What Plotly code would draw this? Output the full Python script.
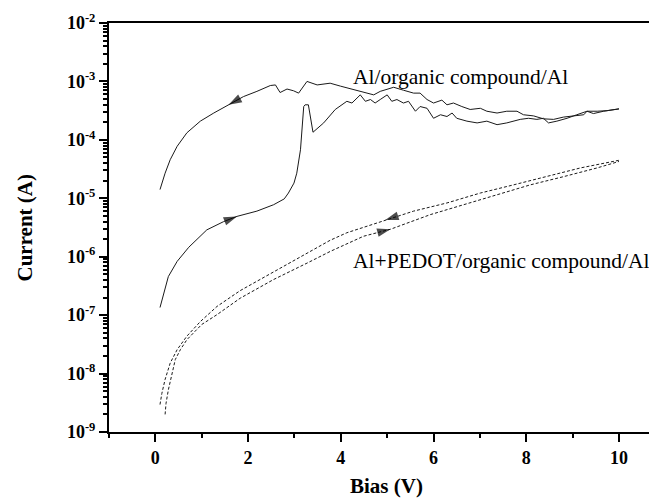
import plotly.graph_objects as go

# ---------------- data (Bias in V, Current in A) ----------------
# Al/organic compound/Al, reverse sweep (10 V -> 0 V), listed by increasing bias
al_rev_x = [0.10, 0.21, 0.32, 0.47, 0.68, 0.97, 1.26, 1.58, 1.90, 2.19, 2.48, 2.59,
            2.69, 2.84, 2.98, 3.09, 3.27, 3.49, 3.77, 3.99, 4.13, 4.31, 4.46, 4.71,
            4.85, 5.14, 5.35, 5.57, 5.71, 5.86, 6.00, 6.18, 6.29, 6.43, 6.61, 6.79,
            7.01, 7.15, 7.37, 7.58, 7.80, 7.94, 8.16, 8.37, 8.59, 8.80, 9.02, 9.24,
            9.31, 9.45, 9.67, 10.0]
al_rev_i = [1.41e-5, 2.69e-5, 4.57e-5, 7.76e-5, 1.32e-4, 2.09e-4, 2.88e-4, 3.98e-4,
            5.50e-4, 6.76e-4, 8.51e-4, 8.71e-4, 6.46e-4, 7.41e-4, 6.92e-4, 6.31e-4,
            1.00e-3, 8.71e-4, 9.33e-4, 8.32e-4, 7.76e-4, 7.24e-4, 6.76e-4, 5.89e-4,
            6.76e-4, 7.94e-4, 7.08e-4, 6.31e-4, 6.31e-4, 4.90e-4, 4.27e-4, 4.79e-4,
            3.98e-4, 4.27e-4, 3.72e-4, 3.31e-4, 3.47e-4, 3.09e-4, 2.88e-4, 3.09e-4,
            3.09e-4, 2.69e-4, 2.57e-4, 2.29e-4, 2.24e-4, 2.45e-4, 2.57e-4, 2.69e-4,
            3.09e-4, 2.82e-4, 3.09e-4, 3.39e-4]

# Al/organic compound/Al, forward sweep (0 V -> 10 V)
al_fwd_x = [0.10, 0.18, 0.28, 0.47, 0.72, 1.11, 1.47, 1.76, 2.19, 2.55, 2.78, 2.87,
            2.99, 3.05, 3.13, 3.20, 3.23, 3.30, 3.40, 3.63, 3.88, 4.13, 4.24, 4.42,
            4.53, 4.64, 4.74, 4.85, 5.00, 5.10, 5.21, 5.35, 5.46, 5.61, 5.71, 5.86,
            6.00, 6.15, 6.29, 6.40, 6.50, 6.72, 6.94, 7.15, 7.37, 7.58, 7.73, 7.87,
            8.05, 8.23, 8.37, 8.48, 8.66, 8.88, 9.09, 9.31, 9.53, 9.74, 10.0]
al_fwd_i = [1.35e-7, 2.40e-7, 4.57e-7, 8.32e-7, 1.45e-6, 2.88e-6, 3.98e-6, 4.90e-6,
            6.03e-6, 7.76e-6, 9.77e-6, 1.23e-5, 1.82e-5, 2.69e-5, 6.76e-5, 3.72e-4,
            3.98e-4, 3.98e-4, 1.35e-4, 1.95e-4, 3.31e-4, 4.57e-4, 4.27e-4, 5.89e-4,
            4.57e-4, 4.90e-4, 4.27e-4, 4.90e-4, 5.89e-4, 4.57e-4, 4.90e-4, 4.27e-4,
            4.57e-4, 3.09e-4, 3.72e-4, 3.47e-4, 2.34e-4, 2.69e-4, 2.51e-4, 2.88e-4,
            2.34e-4, 2.09e-4, 1.95e-4, 2.09e-4, 1.82e-4, 1.95e-4, 2.09e-4, 2.24e-4,
            2.34e-4, 2.24e-4, 2.34e-4, 1.95e-4, 2.09e-4, 2.34e-4, 2.69e-4, 3.09e-4,
            3.09e-4, 3.16e-4, 3.39e-4]

# Al+PEDOT/organic compound/Al, reverse sweep (10 V -> 0 V)
pedot_rev_x = [0.10, 0.14, 0.21, 0.32, 0.47, 0.68, 0.97, 1.33, 1.83, 2.55, 3.27,
               3.77, 4.13, 4.96, 5.57, 6.29, 7.01, 7.73, 8.45, 9.17, 10.0]
pedot_rev_i = [2.95e-9, 4.57e-9, 7.94e-9, 1.51e-8, 2.57e-8, 4.37e-8, 7.76e-8,
               1.41e-7, 2.63e-7, 5.50e-7, 1.15e-6, 1.91e-6, 2.57e-6, 4.27e-6,
               6.03e-6, 8.32e-6, 1.23e-5, 1.70e-5, 2.34e-5, 3.31e-5, 4.47e-5]

# Al+PEDOT/organic compound/Al, forward sweep (0 V -> 10 V)
pedot_fwd_x = [0.21, 0.23, 0.28, 0.36, 0.43, 0.54, 0.68, 1.00, 1.33, 1.83, 2.55,
               3.27, 3.77, 4.49, 5.07, 5.93, 6.65, 7.37, 8.09, 8.80, 9.53, 10.0]
pedot_fwd_i = [2.0e-9, 3.09e-9, 5.25e-9, 1.02e-8, 1.74e-8, 2.57e-8, 3.80e-8,
               6.92e-8, 1.02e-7, 1.95e-7, 4.07e-7, 7.76e-7, 1.23e-6, 2.24e-6,
               2.95e-6, 5.25e-6, 7.76e-6, 1.15e-5, 1.70e-5, 2.34e-5, 3.31e-5, 4.27e-5]

x_tick_vals = [0, 2, 4, 6, 8, 10]
y_tick_vals = [1e-9, 1e-8, 1e-7, 1e-6, 1e-5, 1e-4, 1e-3, 1e-2]
y_tick_text = ["10<sup>-9</sup>", "10<sup>-8</sup>", "10<sup>-7</sup>", "10<sup>-6</sup>",
               "10<sup>-5</sup>", "10<sup>-4</sup>", "10<sup>-3</sup>", "10<sup>-2</sup>"]

x_title = "Bias (V)"
y_title = "Current (A)"
label_al = "Al/organic compound/Al"
label_pedot = "Al+PEDOT/organic compound/Al"

# sweep arrows: (x, y, index of arrow point, +1 for reverse sweep / -1 for forward)
arrow_specs = [
    (al_rev_x, al_rev_i, 7, +1),
    (al_fwd_x, al_fwd_i, 7, -1),
    (pedot_rev_x, pedot_rev_i, 13, +1),
    (pedot_fwd_x, pedot_fwd_i, 14, -1),
]

FONT = "Liberation Serif"
INK = "#1a1a1a"

fig = go.Figure()

solid = dict(color=INK, width=1)
dashed = dict(color=INK, width=1, dash="3px,2px")

fig.add_trace(go.Scatter(x=al_rev_x, y=al_rev_i, mode="lines", line=solid, hoverinfo="skip"))
fig.add_trace(go.Scatter(x=al_fwd_x, y=al_fwd_i, mode="lines", line=solid, hoverinfo="skip"))
fig.add_trace(go.Scatter(x=pedot_rev_x, y=pedot_rev_i, mode="lines", line=dashed, hoverinfo="skip"))
fig.add_trace(go.Scatter(x=pedot_fwd_x, y=pedot_fwd_i, mode="lines", line=dashed, hoverinfo="skip"))

for xs, ys, k, step in arrow_specs:
    prev = k + step
    fig.add_trace(go.Scatter(
        x=[xs[prev], xs[k]], y=[ys[prev], ys[k]], mode="markers",
        marker=dict(symbol="arrow", size=[0, 14], color="black", angleref="previous",
                    line=dict(width=0)),
        hoverinfo="skip"))

minor_y = [m * 10.0 ** e for e in range(-9, -2) for m in range(2, 10)]

# the page body adds an 8 px offset, so the figure is 8 px smaller on each axis
fig.update_layout(
    width=649, height=496,
    margin=dict(l=101, r=0, t=15, b=72, autoexpand=False),
    paper_bgcolor="white", plot_bgcolor="white",
    showlegend=False,
    font=dict(family=FONT, color="black"),
)

fig.update_xaxes(
    range=[-1, 10.82], showgrid=False, zeroline=False, automargin=False,
    showline=True, linecolor="black", linewidth=2, mirror=True,
    ticks="outside", ticklen=8, tickwidth=1.5, tickcolor="black",
    tickmode="array", tickvals=x_tick_vals,
    tickfont=dict(family=FONT, size=18, weight="bold"),
    minor=dict(ticks="outside", ticklen=4, tickwidth=1.5, tickcolor="black", dtick=1, tick0=-1),
)

fig.update_yaxes(
    type="log", range=[-9, -2], showgrid=False, zeroline=False, automargin=False,
    showline=True, linecolor="black", linewidth=2,
    ticks="outside", ticklen=8, tickwidth=1.5, tickcolor="black",
    tickmode="array", tickvals=y_tick_vals, ticktext=y_tick_text,
    tickfont=dict(family=FONT, size=18, weight="bold"),
    minor=dict(ticks="outside", ticklen=4, tickwidth=1.5, tickcolor="black",
               tickmode="array", tickvals=minor_y),
)

# axis titles
fig.add_annotation(x=0.507, y=0, xref="paper", yref="paper", yshift=-54,
                   text=x_title, showarrow=False, xanchor="center", yanchor="middle",
                   font=dict(family=FONT, size=21, weight="bold", color="black"))
fig.add_annotation(x=0, y=0.5, xref="paper", yref="paper", xshift=-85,
                   text=y_title, textangle=-90, showarrow=False,
                   xanchor="center", yanchor="middle",
                   font=dict(family=FONT, size=21, weight="bold", color="black"))

# curve labels
fig.add_annotation(x=4.22, y=-2.92, xref="x", yref="y", text=label_al, showarrow=False,
                   xanchor="left", yanchor="middle", font=dict(family=FONT, size=21.5, color="black"))
fig.add_annotation(x=4.22, y=-6.08, xref="x", yref="y", text=label_pedot, showarrow=False,
                   xanchor="left", yanchor="middle", font=dict(family=FONT, size=21.5, color="black"))

fig.write_html("out.html")
